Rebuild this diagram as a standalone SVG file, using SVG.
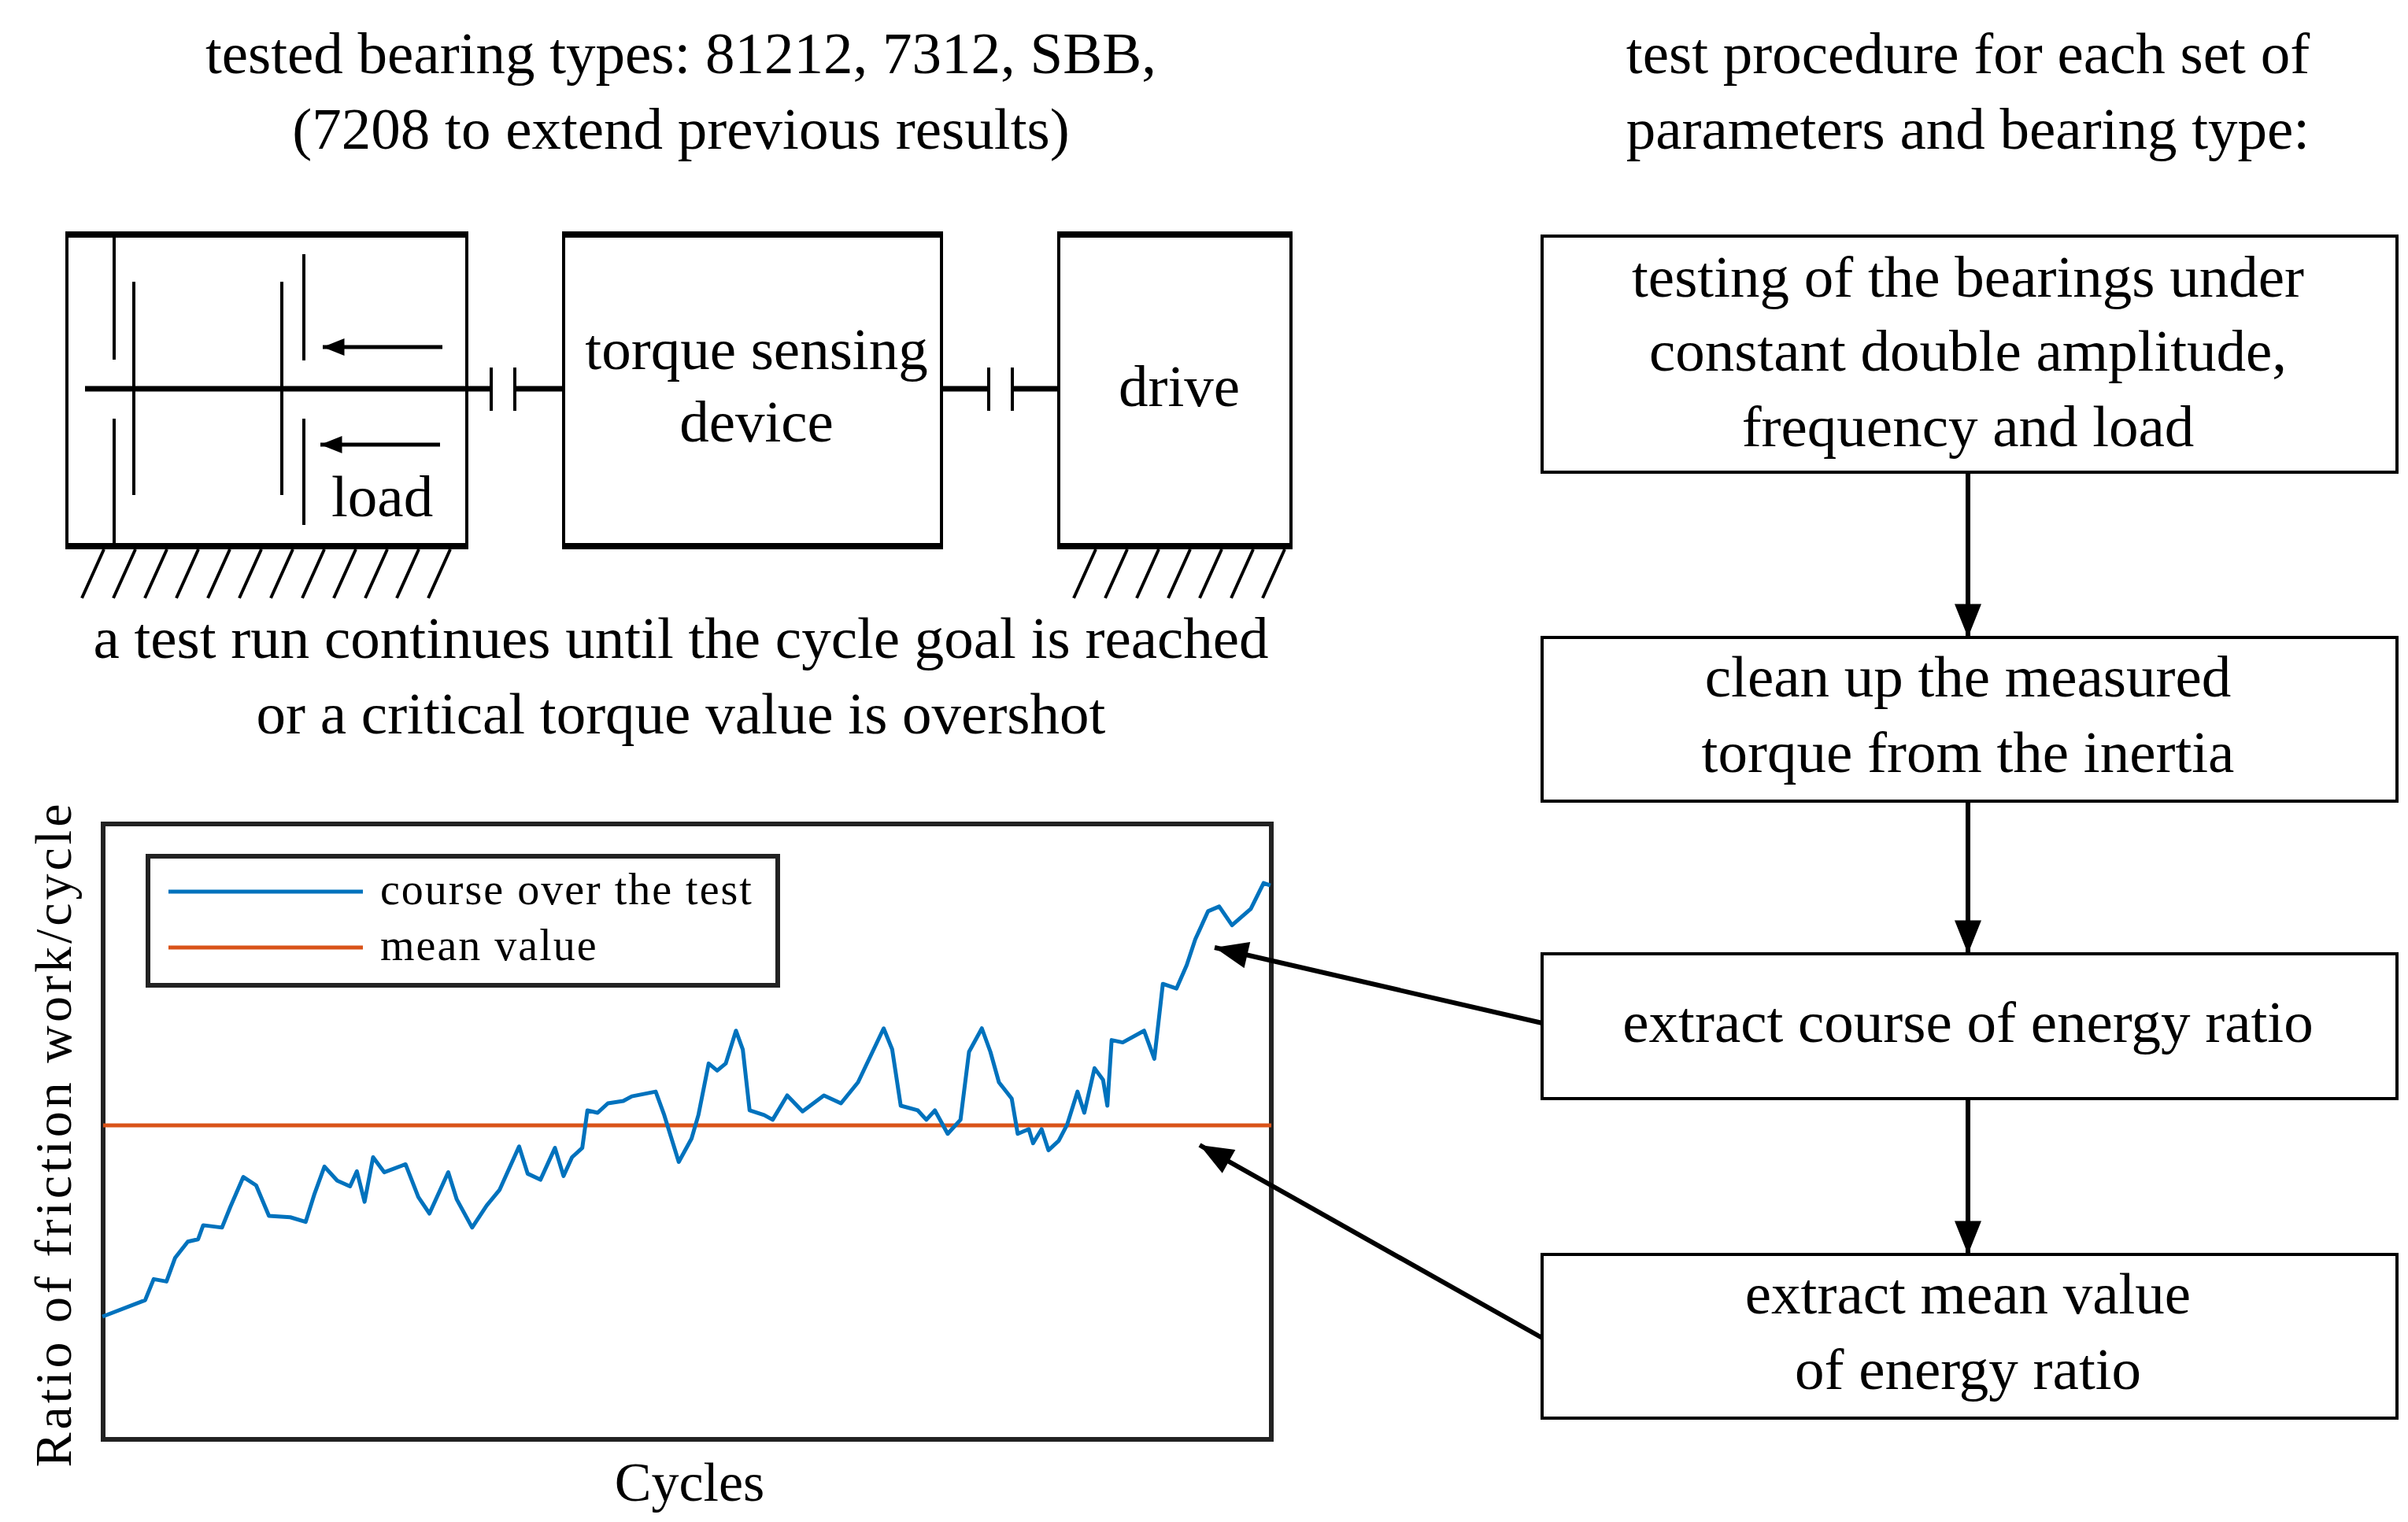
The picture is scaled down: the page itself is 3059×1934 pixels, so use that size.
<svg xmlns="http://www.w3.org/2000/svg" width="3059" height="1934" viewBox="0 0 3059 1934">
<defs>
<marker id="arr" viewBox="0 0 10 8" refX="10" refY="4" markerWidth="44" markerHeight="34" markerUnits="userSpaceOnUse" orient="auto"><path d="M0,0 L10,4 L0,8 z" fill="#000"/></marker>
<marker id="sarr" viewBox="0 0 10 8" refX="10" refY="4" markerWidth="30" markerHeight="22" markerUnits="userSpaceOnUse" orient="auto"><path d="M0,0 L10,4 L0,8 z" fill="#000"/></marker>
</defs>
<style>
text{font-family:"Liberation Serif","Times New Roman",serif;fill:#000}
.t{font-size:75px;text-anchor:middle}
.box{fill:#fff;stroke:#000;stroke-width:4}
.ln{stroke:#000;stroke-width:4;fill:none}
.thick{stroke:#000;stroke-width:8;fill:none}
.con{stroke:#000;stroke-width:6;fill:none;marker-end:url(#arr)}
</style>
<rect width="3059" height="1934" fill="#fff"/>

<text class="t" x="865" y="93">tested bearing types: 81212, 7312, SBB,</text>
<text class="t" x="865" y="189">(7208 to extend previous results)</text>
<text class="t" x="2500" y="93">test procedure for each set of</text>
<text class="t" x="2500" y="189">parameters and bearing type:</text>
<text class="t" x="865" y="836">a test run continues until the cycle goal is reached</text>
<text class="t" x="865" y="932">or a critical torque value is overshot</text>

<g id="bearing">
<rect class="box" x="85" y="298" width="508" height="396"/>
<line class="thick" x1="83" y1="298" x2="595" y2="298"/>
<line class="thick" x1="83" y1="694" x2="595" y2="694"/>
<line class="ln" x1="145" y1="297" x2="145" y2="457"/>
<line class="ln" x1="145" y1="532" x2="145" y2="694"/>
<line class="ln" x1="170" y1="358" x2="170" y2="629"/>
<line class="ln" x1="358" y1="358" x2="358" y2="629"/>
<line class="ln" x1="386" y1="323" x2="386" y2="458"/>
<line class="ln" x1="386" y1="532" x2="386" y2="667"/>
<line stroke="#000" stroke-width="5" x1="562" y1="441" x2="410" y2="441" marker-end="url(#sarr)"/>
<line stroke="#000" stroke-width="5" x1="559" y1="565" x2="407" y2="565" marker-end="url(#sarr)"/>
<text x="421" y="656" style="font-size:75px">load</text>
<g class="ln"><path d="M132,698 l-28,62 M172,698 l-28,62 M212,698 l-28,62 M252,698 l-28,62 M292,698 l-28,62 M332,698 l-28,62 M372,698 l-28,62 M412,698 l-28,62 M452,698 l-28,62 M492,698 l-28,62 M532,698 l-28,62 M572,698 l-28,62"/></g>
</g>

<g id="shaft">
<line stroke="#000" stroke-width="7" x1="108" y1="494" x2="624" y2="494"/>
<line stroke="#000" stroke-width="7" x1="654" y1="494" x2="716" y2="494"/>
<line class="ln" x1="624" y1="467" x2="624" y2="522"/>
<line class="ln" x1="654" y1="467" x2="654" y2="522"/>
<line stroke="#000" stroke-width="7" x1="1196" y1="494" x2="1256" y2="494"/>
<line stroke="#000" stroke-width="7" x1="1286" y1="494" x2="1345" y2="494"/>
<line class="ln" x1="1256" y1="467" x2="1256" y2="522"/>
<line class="ln" x1="1286" y1="467" x2="1286" y2="522"/>
</g>

<g id="torque">
<rect class="box" x="716" y="298" width="480" height="396"/>
<line class="thick" x1="714" y1="298" x2="1198" y2="298"/>
<line class="thick" x1="714" y1="694" x2="1198" y2="694"/>
<text class="t" x="961" y="469">torque sensing</text>
<text class="t" x="961" y="561">device</text>
</g>

<g id="drive">
<rect class="box" x="1345" y="298" width="295" height="396"/>
<line class="thick" x1="1343" y1="298" x2="1642" y2="298"/>
<line class="thick" x1="1343" y1="694" x2="1642" y2="694"/>
<text class="t" x="1498" y="516">drive</text>
<g class="ln"><path d="M1392,698 l-28,62 M1432,698 l-28,62 M1472,698 l-28,62 M1512,698 l-28,62 M1552,698 l-28,62 M1592,698 l-28,62 M1632,698 l-28,62"/></g>
</g>

<g id="step1"><rect class="box" x="1959" y="300" width="1086" height="300"/>
<text class="t" x="2500" y="377">testing of the bearings under</text>
<text class="t" x="2500" y="471">constant double amplitude,</text>
<text class="t" x="2500" y="567">frequency and load</text></g>
<g id="step2"><rect class="box" x="1959" y="810" width="1086" height="208"/>
<text class="t" x="2500" y="885">clean up the measured</text>
<text class="t" x="2500" y="981">torque from the inertia</text></g>
<g id="step3"><rect class="box" x="1959" y="1212" width="1086" height="184"/>
<text class="t" x="2500" y="1324">extract course of energy ratio</text></g>
<g id="step4"><rect class="box" x="1959" y="1594" width="1086" height="208"/>
<text class="t" x="2500" y="1669">extract mean value</text>
<text class="t" x="2500" y="1765">of energy ratio</text></g>

<g id="plot">
<rect x="131" y="1047" width="1484" height="782" fill="#fff" stroke="#222" stroke-width="6"/>
<line x1="131" y1="1430" x2="1615" y2="1430" stroke="#d95319" stroke-width="5"/>
<g transform="translate(0,1000) scale(1.0846,0.5956)">
<polyline fill="none" stroke="#0072bd" stroke-width="5" vector-effect="non-scaling-stroke" stroke-linejoin="round" points="120,1130 170,1095 180,1050 195,1055 205,1005 220,970 232,965 238,935 260,940 270,895 285,832 300,850 315,915 340,918 358,928 368,870 380,810 395,840 410,852 418,820 427,885 437,790 450,822 475,805 490,875 503,910 525,822 535,880 553,940 570,893 585,860 608,767 618,825 633,838 650,770 660,830 670,790 682,770 688,690 700,695 712,675 730,670 740,660 768,650 778,700 795,800 810,750 818,700 830,590 840,605 850,590 862,520 870,560 878,690 895,700 905,710 922,658 940,692 965,658 985,675 1005,630 1035,515 1045,560 1055,680 1075,690 1085,710 1095,690 1110,740 1125,710 1135,565 1150,515 1160,565 1170,630 1185,665 1192,740 1205,730 1210,760 1220,730 1228,775 1240,755 1250,720 1262,650 1270,695 1282,600 1292,625 1297,680 1302,540 1315,545 1340,520 1352,580 1362,420 1378,430 1390,380 1400,325 1415,265 1428,255 1443,295 1465,260 1480,205 1488,210"/>
</g>
<rect x="188" y="1088" width="800" height="164" fill="#fff" stroke="#222" stroke-width="6"/>
<line x1="214" y1="1133" x2="461" y2="1133" stroke="#0072bd" stroke-width="5"/>
<line x1="214" y1="1204" x2="461" y2="1204" stroke="#d95319" stroke-width="5"/>
<text x="483" y="1149" style="font-size:56px;letter-spacing:2px">course over the test</text>
<text x="483" y="1220" style="font-size:56px;letter-spacing:2px">mean value</text>
<text x="876" y="1907" style="font-size:70px;text-anchor:middle">Cycles</text>
<text transform="translate(90,1441) rotate(-90)" style="font-size:66px;text-anchor:middle;letter-spacing:4px">Ratio of friction work/cycle</text>
</g>

<g id="connectors">
<line class="con" x1="2500" y1="600" x2="2500" y2="810"/>
<line class="con" x1="2500" y1="1018" x2="2500" y2="1212"/>
<line class="con" x1="2500" y1="1396" x2="2500" y2="1594"/>
<line class="con" x1="1959" y1="1300" x2="1543" y2="1204"/>
<line class="con" x1="1959" y1="1700" x2="1524" y2="1455"/>
</g>
</svg>
